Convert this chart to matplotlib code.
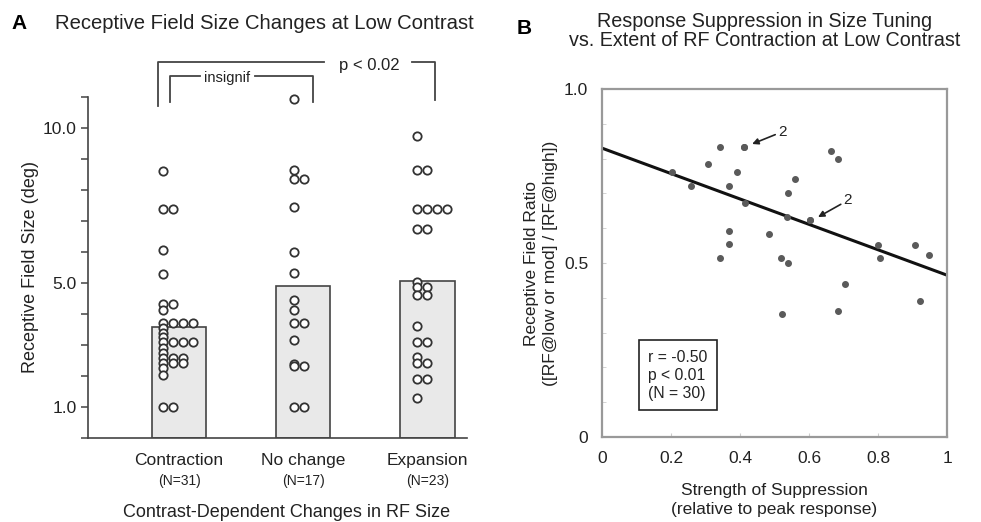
import matplotlib.pyplot as plt
import numpy as np

plt.rcParams['font.family'] = ['Liberation Sans', 'DejaVu Sans']

# ---- panel A data ----
groups = ['Contraction', 'No change', 'Expansion']
group_n = ['(N=31)', '(N=17)', '(N=23)']
bar_heights = [3.58, 4.9, 5.06]
contraction = [8.6, 7.4, 7.4, 6.05, 5.3, 4.32, 4.32, 4.13, 3.7, 3.7, 3.7, 3.7,
               3.55, 3.4, 3.25, 3.11, 3.11, 3.11, 3.11, 2.9, 2.75, 2.58, 2.58,
               2.58, 2.42, 2.42, 2.42, 2.25, 2.03, 1.0, 1.0]
no_change = [10.95, 8.65, 8.34, 8.34, 7.44, 6.01, 5.33, 4.45, 4.13, 3.72, 3.72,
             3.16, 2.4, 2.32, 2.32, 1.0, 1.0]
expansion = [9.75, 8.65, 8.65, 7.4, 7.4, 7.4, 7.4, 6.73, 6.73, 5.04, 4.88, 4.88,
             4.61, 4.61, 3.61, 3.11, 3.11, 2.6, 2.41, 2.41, 1.89, 1.89, 1.3]
y_ticks = list(range(0, 12))
y_labels = {1: '1.0', 5: '5.0', 10: '10.0'}

# ---- panel B data ----
supp = [0.202, 0.258, 0.308, 0.342, 0.412, 0.412, 0.39, 0.369, 0.414, 0.369,
        0.369, 0.342, 0.485, 0.519, 0.54, 0.54, 0.559, 0.535, 0.603, 0.603,
        0.663, 0.685, 0.704, 0.80, 0.806, 0.906, 0.949, 0.922, 0.521, 0.683]
ratio = [0.762, 0.722, 0.784, 0.832, 0.832, 0.832, 0.762, 0.722, 0.673, 0.593,
         0.554, 0.513, 0.583, 0.513, 0.50, 0.702, 0.741, 0.631, 0.624, 0.624,
         0.823, 0.80, 0.44, 0.552, 0.513, 0.552, 0.523, 0.391, 0.353, 0.362]
fit_intercept = 0.83
fit_slope = -0.365
x_ticks_b = [0, 0.2, 0.4, 0.6, 0.8, 1]
x_labels_b = ['0', '0.2', '0.4', '0.6', '0.8', '1']

dark = '#222222'
fig = plt.figure(figsize=(9.81, 5.22), dpi=100)

# ================= panel A =================
ax = fig.add_axes([0.0897, 0.1609, 0.3863, 0.6533])
ax.bar(range(3), bar_heights, width=0.44, color='#e9e9e9', edgecolor='#444444',
       linewidth=1.2, zorder=1)

dot_x0 = [-0.13, -0.07, -0.08]
for i, vals in enumerate([contraction, no_change, expansion]):
    seen = {}
    xs = []
    for v in vals:
        col = seen.get(v, 0)
        seen[v] = col + 1
        xs.append(i + dot_x0[i] + col * 0.08)
    ax.plot(xs, vals, 'o', ms=6, mfc='white', mec='#333333', mew=1.3,
            linestyle='none', zorder=3, clip_on=False)

ax.set_xlim(-0.734, 2.32)
ax.set_ylim(0, 11)
ax.set_yticks(y_ticks)
ax.set_yticklabels([y_labels.get(t, '') for t in y_ticks])
ax.set_xticks([])
for s in ['top', 'right']:
    ax.spines[s].set_visible(False)
for s in ['left', 'bottom']:
    ax.spines[s].set_color('#444444')
    ax.spines[s].set_linewidth(1.2)
ax.tick_params(axis='y', length=5, width=1.1, color='#444444', labelsize=12.5,
               labelcolor=dark, pad=3)
ax.set_ylabel('Receptive Field Size (deg)', fontsize=13, color=dark, labelpad=3)

for i in range(3):
    ax.text(i, -0.72, groups[i], ha='center', va='center', fontsize=12.5, color=dark)
    ax.text(i, -1.38, group_n[i], ha='center', va='center', fontsize=10, color=dark)
ax.text(0.87, -2.4, 'Contrast-Dependent Changes in RF Size', ha='center',
        va='center', fontsize=13, color=dark)

# significance brackets
bk = dict(color='#444444', lw=1.3, clip_on=False)
ax.plot([-0.17, -0.17, 1.17], [10.7, 12.13, 12.13], **bk)
ax.plot([1.88, 2.06, 2.06], [12.13, 12.13, 10.9], **bk)
ax.text(1.53, 12.02, 'p < 0.02', ha='center', va='center', fontsize=12, color=dark)
ax.plot([-0.07, -0.07, 0.17], [10.84, 11.68, 11.68], **bk)
ax.plot([0.61, 1.08, 1.08], [11.68, 11.68, 10.84], **bk)
ax.text(0.39, 11.62, 'insignif', ha='center', va='center', fontsize=10.5, color=dark)

fig.text(0.012, 0.945, 'A', fontsize=15, fontweight='bold', color='black')
fig.text(0.056, 0.945, 'Receptive Field Size Changes at Low Contrast',
         fontsize=14.6, color=dark)

# ================= panel B =================
bx = fig.add_axes([0.6137, 0.1628, 0.3517, 0.6667])
bx.plot(supp, ratio, 'o', ms=4, color='#5a5a5a', linestyle='none', zorder=3)
xl = np.array([0, 1])
bx.plot(xl, fit_intercept + fit_slope * xl, color='#111111', lw=2.2, zorder=2)
bx.set_xlim(0, 1)
bx.set_ylim(0, 1)
bx.set_xticks(x_ticks_b)
bx.set_xticklabels(x_labels_b)
bx.set_yticks([0, 0.5, 1.0])
bx.set_yticklabels(['0', '0.5', '1.0'])
bx.set_yticks(np.arange(0, 1.01, 0.1), minor=True)
for s in bx.spines.values():
    s.set_color('#999999')
    s.set_linewidth(1.6)
bx.tick_params(axis='both', which='major', direction='in', length=3, color='#cccccc',
               labelsize=12.5, labelcolor=dark, pad=10)
bx.tick_params(axis='y', which='minor', direction='in', length=3, color='#cccccc')
bx.set_ylabel('Receptive Field Ratio\n([RF@low or mod] / [RF@high])',
              fontsize=12.5, color=dark, labelpad=4, linespacing=1.35)
bx.set_xlabel('Strength of Suppression\n(relative to peak response)',
              fontsize=12.5, color=dark, labelpad=12, linespacing=1.4)

bx.annotate('2', xy=(0.435, 0.842), xytext=(0.51, 0.877), fontsize=11,
            color=dark, va='center', ha='left',
            arrowprops=dict(arrowstyle='-|>', color='#222222', lw=1.2,
                            shrinkA=0, shrinkB=0, mutation_scale=9))
bx.annotate('2', xy=(0.626, 0.632), xytext=(0.70, 0.68), fontsize=11,
            color=dark, va='center', ha='left',
            arrowprops=dict(arrowstyle='-|>', color='#222222', lw=1.2,
                            shrinkA=0, shrinkB=0, mutation_scale=9))

bx.text(0.134, 0.178, 'r = -0.50\np < 0.01\n(N = 30)', fontsize=11.3, color=dark,
        va='center', ha='left', linespacing=1.25,
        bbox=dict(boxstyle='square,pad=0.6', fc='white', ec='#222222', lw=1.2))

fig.text(0.527, 0.935, 'B', fontsize=15, fontweight='bold', color='black')
fig.text(0.779, 0.9406,
         'Response Suppression in Size Tuning\n'
         'vs. Extent of RF Contraction at Low Contrast',
         fontsize=14.2, color=dark, ha='center', va='center', linespacing=0.95)

fig.savefig('out.png', dpi=100)
